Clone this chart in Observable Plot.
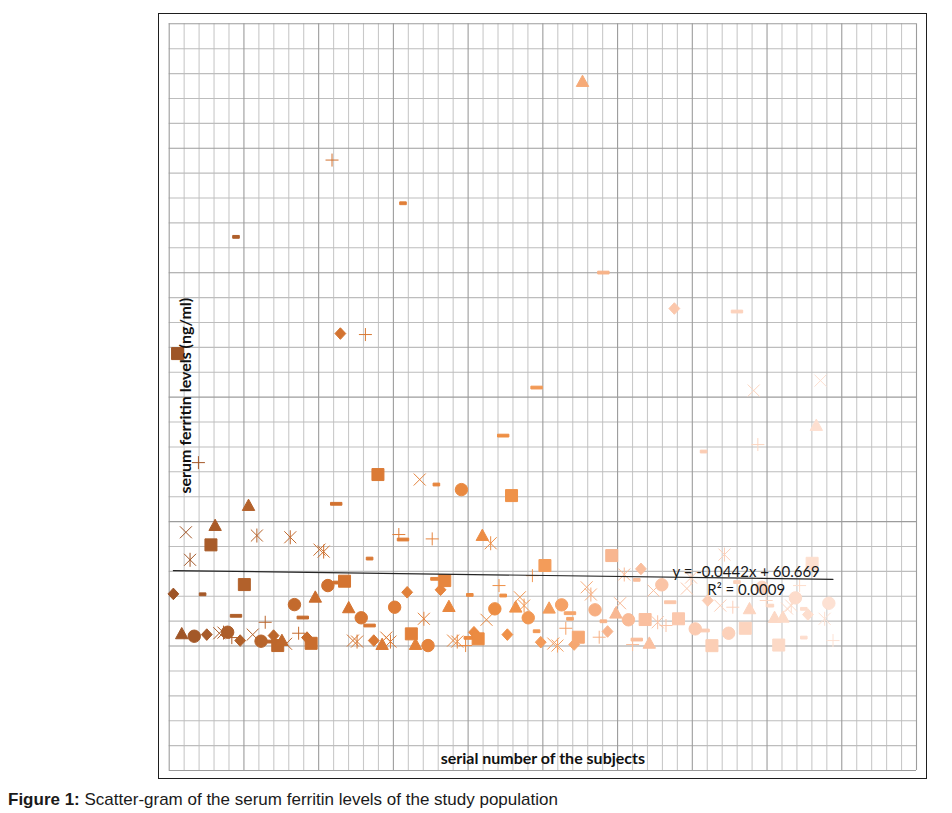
<!DOCTYPE html>
<html>
<head>
<meta charset="utf-8">
<script src="https://cdn.jsdelivr.net/npm/d3@7"></script>
<script src="https://cdn.jsdelivr.net/npm/@observablehq/plot@0.6"></script>
<style>
  html, body { margin: 0; padding: 0; background: #fff; }
  #wrap { position: relative; width: 952px; height: 813px; overflow: hidden; }
  #chart { position: absolute; left: 0; top: 0; }
  #border { position: absolute; left: 158px; top: 12.5px; width: 769px; height: 766px; border: 1.3px solid #1e1e1e; box-sizing: border-box; pointer-events: none; }
  #caption { position: absolute; left: 8px; top: 791px; font-family: "Liberation Sans", Arial, sans-serif; font-size: 17px; line-height: 17px; color: #1a1a1a; white-space: nowrap; }
</style>
</head>
<body>
<div id="wrap">
  <div id="chart"></div>
  <div id="border"></div>
  <div id="caption"><b>Figure 1:</b> Scatter-gram of the serum ferritin levels of the study population</div>
</div>
<script>
// ---- data ----
const serial = [
  1,2,3,4,5,6,7,8,9,10,11,12,13,14,15,16,16,17,18,19,20,21,22,23,24,25,26,27,28,29,30,31,32,33,34,35,36,37,38,39,40,40,
  41,42,43,44,45,46,47,48,48,49,50,51,52,53,54,55,56,56,57,58,59,60,61,62,63,64,64,65,66,67,68,69,70,71,72,72,73,74,75,76,77,78,79,80,80,
  81,82,83,84,85,86,87,88,88,89,90,91,92,93,94,95,96,96,97,98,99,100,101,102,103,104,104,105,106,107,108,109,110,111,112,112,113,114,115,116,117,118,119,120,
  121,122,124,125,126,128,128,129,130,132,133,134,135,136,136,138,139,140,141,142,143,144,145,146,147,148,149,150,151,152,152,153,154,155,156,157,158,159
];
const ferritin = [
  41.9,235,9.8,91.4,69.3,7.9,147.4,41.6,9.2,81.3,96.8,10.3,10.8,11.1,6.8,328.8,24.3,4.4,49.4,112.9,9.2,88.8,3.9,19.1,3.6,8.4,0.4,4.4,1.8,87.4,33.3,10.3,22.9,6.8,2.2,39.2,77.5,75.9,48.6,390.5,51.0,114.3,
  251.1,52.1,30.7,4.4,3.6,22.7,250.3,70.3,16.5,4.4,137.8,1.2,6.8,3.6,31.2,89.6,355.8,85.6,43.2,9.8,1.2,133.8,21.9,0.4,86.1,129.8,54.0,45.2,52.6,31.7,4.4,3.6,125.7,0.4,41.1,6.6,11.1,5.8,88.8,21.1,82.6,29.9,48.6,169.1,40.6,
  9.2,120.9,31.2,39.2,32.5,22.7,56.6,207.7,11.9,3.1,64.7,30.4,2.0,0.4,33.1,14.3,26.4,21.9,1.2,7.1,453.6,47.2,41.4,29.1,7.1,300.1,19.9,11.7,72.7,26.4,34.4,57.5,21.1,1.2,53.2,5.2,62.0,21.3,2.2,44.6,19.1,49.2,16.5,35.2,
  271.2,21.9,46.2,55.0,13.8,156.3,12.5,36.6,0.3,32.5,73.5,10.3,31.2,268.8,51.4,14.3,29.9,205.3,161.9,47.2,36.6,32.5,22.9,0.8,23.1,30.1,32.5,38.7,48.6,29.9,6.8,25.3,66.5,177.2,213.3,21.9,34.4,4.4
];
const marker = [
  "diamond","square","triangle","x","asterisk","circle","plus","dash","diamond","square","triangle","x","asterisk","circle","plus","dash","longdash","diamond","square","triangle","x","asterisk","circle","plus","longdash","diamond","square","triangle","x","asterisk","circle","plus","longdash","diamond","square","triangle","x","asterisk","circle","plus","dash","longdash",
  "diamond","square","triangle","x","asterisk","circle","plus","dash","longdash","diamond","square","triangle","x","asterisk","circle","plus","dash","longdash","diamond","square","triangle","x","asterisk","circle","plus","dash","longdash","diamond","square","triangle","x","asterisk","circle","plus","dash","longdash","diamond","square","triangle","x","asterisk","circle","plus","longdash","dash",
  "diamond","square","triangle","x","asterisk","circle","plus","longdash","dash","diamond","square","triangle","x","asterisk","circle","plus","longdash","dash","diamond","square","triangle","x","asterisk","circle","plus","longdash","dash","diamond","square","triangle","x","asterisk","circle","plus","dash","longdash","diamond","square","triangle","x","asterisk","circle","plus","longdash",
  "diamond","square","x","asterisk","circle","dash","longdash","diamond","square","x","asterisk","circle","plus","longdash","dash","square","triangle","x","plus","circle","plus","dash","triangle","square","triangle","x","asterisk","circle","plus","dash","dash","diamond","square","triangle","x","asterisk","circle","plus"
];
const trendSlope = -0.0442;
const trendIntercept = 60.669;
const trendLabels = ["y = -0.0442x + 60.669", "R\u00B2 = 0.0009"];
const xTitle = "serial number of the subjects";
const yTitle = "serum ferritin levels (ng/ml)";

// ---- marker shapes (Excel-like) ----
const markerTypes = ["diamond","square","triangle","x","asterisk","circle","plus","dash","longdash"];
const shapes = {
  diamond: {draw(c) { c.moveTo(0,-5.8); c.lineTo(5.4,0); c.lineTo(0,5.8); c.lineTo(-5.4,0); c.closePath(); }},
  square: {draw(c) { c.rect(-6,-6,12,12); }},
  triangle: {draw(c) { c.moveTo(0,-6.4); c.lineTo(6.2,4.9); c.lineTo(-6.2,4.9); c.closePath(); }},
  x: {draw(c) { c.moveTo(-6,-6); c.lineTo(6,6); c.moveTo(6,-6); c.lineTo(-6,6); }},
  asterisk: {draw(c) { c.moveTo(-6,-6); c.lineTo(6,6); c.moveTo(6,-6); c.lineTo(-6,6); c.moveTo(0,-7); c.lineTo(0,7); }},
  circle: {draw(c) { c.moveTo(6.2,0); c.arc(0,0,6.2,0,2*Math.PI); }},
  plus: {draw(c) { c.moveTo(-6.5,0); c.lineTo(6.5,0); c.moveTo(0,-6.5); c.lineTo(0,6.5); }},
  dash: {draw(c) { c.rect(-3.3,-1.4,6.6,2.8); }},
  longdash: {draw(c) { c.rect(-5.7,-1.4,11.4,2.8); }}
};

const points = serial.map((s, i) => ({serial: s, ferritin: ferritin[i], marker: marker[i]}));
const xExtent = d3.extent(serial);
const trend = xExtent.map(x => ({serial: x, ferritin: trendSlope * x + trendIntercept}));

const xDomain = [0, 179], yDomain = [-100, 500];
const xGrid = d3.range(0, 51).map(k => xDomain[0] + k * (xDomain[1] - xDomain[0]) / 50);
const yGrid = d3.range(yDomain[0], yDomain[1] + 1, 20);

const chart = Plot.plot({
  width: 952,
  height: 790,
  marginLeft: 168.7,
  marginRight: 36,
  marginTop: 23.3,
  marginBottom: 20,
  style: {fontFamily: "Lato, 'Open Sans', sans-serif", background: "transparent"},
  x: {domain: xDomain, axis: null},
  y: {domain: yDomain, axis: null},
  color: {
    type: "linear",
    domain: [1, 20, 40, 60, 80, 92, 106, 122, 140, 159],
    range: ["#9d5427", "#b4622b", "#d2722f", "#e4823b", "#ee8f45", "#f49e5e", "#f8b690", "#fbc8ad", "#fcd5c0", "#fde2d4"],
    interpolate: "rgb"
  },
  symbol: {domain: markerTypes, range: markerTypes.map(t => shapes[t])},
  marks: [
    Plot.ruleX(xGrid.filter((d, k) => k % 5 !== 0), {stroke: "#c9c9c9", strokeWidth: 1.1}),
    Plot.ruleY(yGrid.filter(d => d % 100 !== 0), {stroke: "#bdbdbd", strokeWidth: 1.1}),
    Plot.ruleX(xGrid.filter((d, k) => k % 5 === 0), {stroke: "#9c9c9c", strokeWidth: 1.1}),
    Plot.ruleY(yGrid.filter(d => d % 100 === 0), {stroke: "#9c9c9c", strokeWidth: 1.1}),
    Plot.dot(points, {
      x: "serial", y: "ferritin", symbol: "marker",
      fill: "serial", stroke: "serial", strokeWidth: 1, r: 6
    }),
    Plot.line(trend, {x: "serial", y: "ferritin", stroke: "#262626", strokeWidth: 1.2}),
    Plot.text([trendLabels[0]], {x: 138.2, y: 59.5, text: d => d, fontSize: 15, fill: "#1a1a1a"}),
    Plot.text([trendLabels[1]], {x: 138.2, y: 44.6, text: d => d, fontSize: 15, fill: "#1a1a1a"}),
    Plot.text([xTitle], {frameAnchor: "bottom", dy: -7, text: d => d, fontSize: 16, fontWeight: "bold", fill: "#111"}),
    Plot.text([yTitle], {frameAnchor: "left", dx: 16.5, dy: -1.5, rotate: -90, textAnchor: "middle", text: d => d, fontSize: 16, fontWeight: "bold", fill: "#111"})
  ]
});
document.getElementById("chart").appendChild(chart);
</script>
</body>
</html>
